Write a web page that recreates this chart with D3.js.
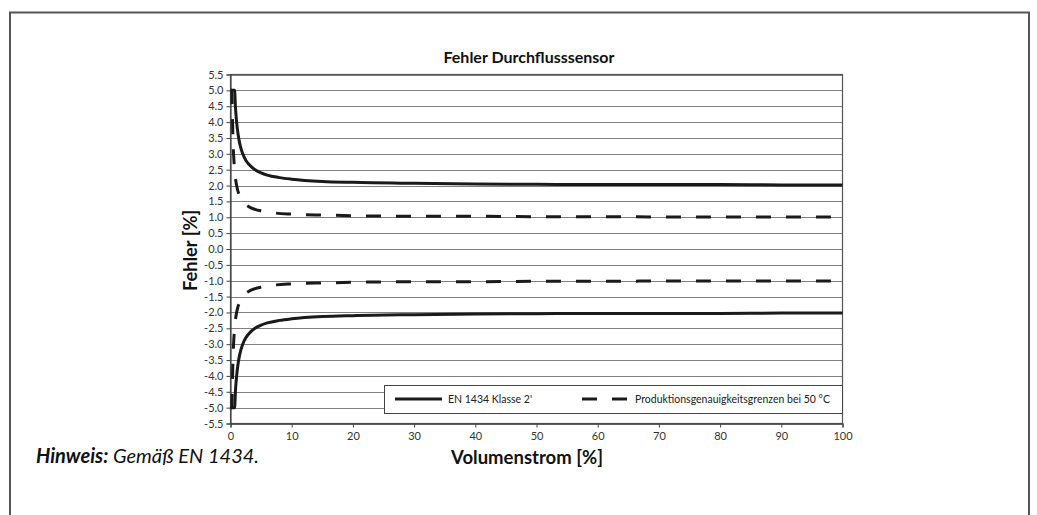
<!DOCTYPE html>
<html><head><meta charset="utf-8">
<script src="https://cdn.jsdelivr.net/npm/d3@7"></script>
<style>
html,body{margin:0;padding:0;background:#fff;}
svg{display:block;}
</style></head>
<body>
<svg id="c" width="1037" height="515"></svg>
<script>
// ---- data ----
const chartTitle = "Fehler Durchflusssensor";
const xLabel = "Volumenstrom [%]";
const yLabel = "Fehler [%]";
const xTicks = [0,10,20,30,40,50,60,70,80,90,100];
const yTicks = [5.5,5.0,4.5,4.0,3.5,3.0,2.5,2.0,1.5,1.0,0.5,0.0,-0.5,-1.0,-1.5,-2.0,-2.5,-3.0,-3.5,-4.0,-4.5,-5.0,-5.5];
const seriesNames = ["EN 1434 Klasse 2'", "Produktionsgenauigkeitsgrenzen bei 50 °C"];

// EN 1434 class 2 limit (upper), flow % -> error %
const klasseX =   [0, 0.5, 0.67, 0.8, 1.0, 1.25, 1.5, 2.0, 2.5, 3.0, 4.0, 5.0, 6.0, 8.0, 10, 15, 20, 30, 40, 50, 60, 70, 80, 90, 100];
const klasseUp =  [5.0, 5.0, 5.0, 4.5, 4.0, 3.6, 3.33, 3.0, 2.8, 2.67, 2.5, 2.4, 2.33, 2.25, 2.2, 2.13, 2.1, 2.07, 2.05, 2.04, 2.03, 2.03, 2.03, 2.02, 2.02];
const klasseLow = [-5.0, -5.0, -5.0, -4.5, -4.0, -3.6, -3.33, -3.0, -2.8, -2.67, -2.5, -2.4, -2.33, -2.25, -2.2, -2.13, -2.1, -2.07, -2.05, -2.04, -2.03, -2.03, -2.03, -2.02, -2.02];
// production accuracy limits at 50 °C
const prodX =   [0, 0.2, 0.3, 0.4, 0.5, 0.6, 0.75, 1.0, 1.5, 2.0, 3.0, 4.0, 5.0, 7.0, 10, 15, 20, 30, 40, 50, 60, 70, 80, 90, 100];
const prodUp =  [5.0, 5.0, 4.33, 3.5, 3.0, 2.67, 2.33, 2.0, 1.67, 1.5, 1.33, 1.25, 1.2, 1.14, 1.1, 1.07, 1.05, 1.03, 1.03, 1.02, 1.02, 1.01, 1.01, 1.01, 1.01];
const prodLow = [-5.0, -5.0, -4.33, -3.5, -3.0, -2.67, -2.33, -2.0, -1.67, -1.5, -1.33, -1.25, -1.2, -1.14, -1.1, -1.07, -1.05, -1.03, -1.03, -1.02, -1.02, -1.01, -1.01, -1.01, -1.01];
const footBold = "Hinweis:";
const footText = " Gemäß EN 1434.";

// ---- drawing ----
const svg = d3.select("#c");
const W = 1037, H = 515;
const m = {left: 230.5, right: 842.5, top: 74.5, bottom: 423.5};
const x = d3.scaleLinear().domain([0,100]).range([m.left, m.right]);
const y = d3.scaleLinear().domain([-5.5,5.5]).range([m.bottom, m.top]);
const tickFont = "Lato,'Liberation Sans',Arial,sans-serif";
const boldFont = "Lato,'Open Sans','Liberation Sans',Arial,sans-serif";

// outer frame
svg.append("path")
  .attr("d", `M10,${H+5} L10,12.5 L1029,12.5 L1029,${H+5}`)
  .attr("fill","none").attr("stroke","#555").attr("stroke-width",2);

// grid
svg.append("g").selectAll("line").data(yTicks).join("line")
  .attr("x1", m.left).attr("x2", m.right)
  .attr("y1", d => Math.round(y(d))+0.5).attr("y2", d => Math.round(y(d))+0.5)
  .attr("stroke","#808080").attr("stroke-width",1);

// plot border
svg.append("rect").attr("x", m.left).attr("y", m.top).attr("width", m.right-m.left).attr("height", m.bottom-m.top)
  .attr("fill","none").attr("stroke","#555").attr("stroke-width",1.2);

// axes
const yAxis = d3.axisLeft(y).tickValues(yTicks).tickSize(4).tickPadding(3).tickFormat(d3.format(".1f"));
const gy = svg.append("g").attr("transform", `translate(${m.left},0)`).call(yAxis);
const xAxis = d3.axisBottom(x).tickValues(xTicks).tickSize(4).tickPadding(5).tickFormat(d3.format("d"));
const gx = svg.append("g").attr("transform", `translate(0,${m.bottom})`).call(xAxis);
[gx, gy].forEach(g => {
  g.select(".domain").attr("stroke","#444").attr("stroke-width",1.2);
  g.selectAll(".tick line").attr("stroke","#444");
  g.selectAll("text").attr("font-family", tickFont).attr("font-size", 11).attr("fill","#333");
});
gy.selectAll(".tick text").text(d => d < 0 ? "-" + d3.format(".1f")(-d) : d3.format(".1f")(d));

// curves
const line = d3.line().x(d => x(d[0])).y(d => y(d[1])).curve(d3.curveMonotoneX);
function drawSeries(xs, ys, dashed) {
  svg.append("path").datum(xs.map((v,i) => [v, ys[i]]))
    .attr("d", line).attr("fill","none").attr("stroke","#1a1a1a")
    .attr("stroke-width", 3).attr("stroke-dasharray", dashed ? "15,15" : null);
}
drawSeries(klasseX, klasseUp, false);
drawSeries(klasseX, klasseLow, false);
drawSeries(prodX, prodUp, true);
drawSeries(prodX, prodLow, true);

// legend
const lg = svg.append("g");
lg.append("rect").attr("x", 384.5).attr("y", 385.5).attr("width", 458).attr("height", 28)
  .attr("fill","#fff").attr("stroke","#444").attr("stroke-width",1);
lg.append("line").attr("x1",395).attr("x2",442).attr("y1",399).attr("y2",399)
  .attr("stroke","#1a1a1a").attr("stroke-width",3);
lg.append("text").attr("x",448).attr("y",402.5).text(seriesNames[0])
  .attr("font-family", tickFont).attr("font-size",10.5).attr("fill","#222");
lg.append("line").attr("x1",582).attr("x2",627).attr("y1",399).attr("y2",399)
  .attr("stroke","#1a1a1a").attr("stroke-width",3).attr("stroke-dasharray","15,15");
lg.append("text").attr("x",635).attr("y",402.5).text(seriesNames[1])
  .attr("font-family", tickFont).attr("font-size",10.5).attr("fill","#222");

// title & axis labels
svg.append("text").attr("x", 529).attr("y", 63).attr("text-anchor","middle")
  .attr("font-family", boldFont).attr("font-weight","bold").attr("font-size",16).attr("fill","#111")
  .text(chartTitle);
svg.append("text").attr("x", 527).attr("y", 464).attr("text-anchor","middle")
  .attr("font-family", boldFont).attr("font-weight","bold").attr("font-size",18.5).attr("fill","#111")
  .text(xLabel);
svg.append("text").attr("transform", "translate(196.5,250.5) rotate(-90)").attr("text-anchor","middle")
  .attr("font-family", boldFont).attr("font-weight","bold").attr("font-size",18.3).attr("fill","#111")
  .text(yLabel);

// footnote
const ft = svg.append("text").attr("x", 36).attr("y", 463).attr("font-family", boldFont)
  .attr("font-size", 20).attr("font-style","italic").attr("fill","#111");
ft.append("tspan").attr("font-weight","bold").text(footBold);
ft.append("tspan").text(footText);
</script>
</body></html>
